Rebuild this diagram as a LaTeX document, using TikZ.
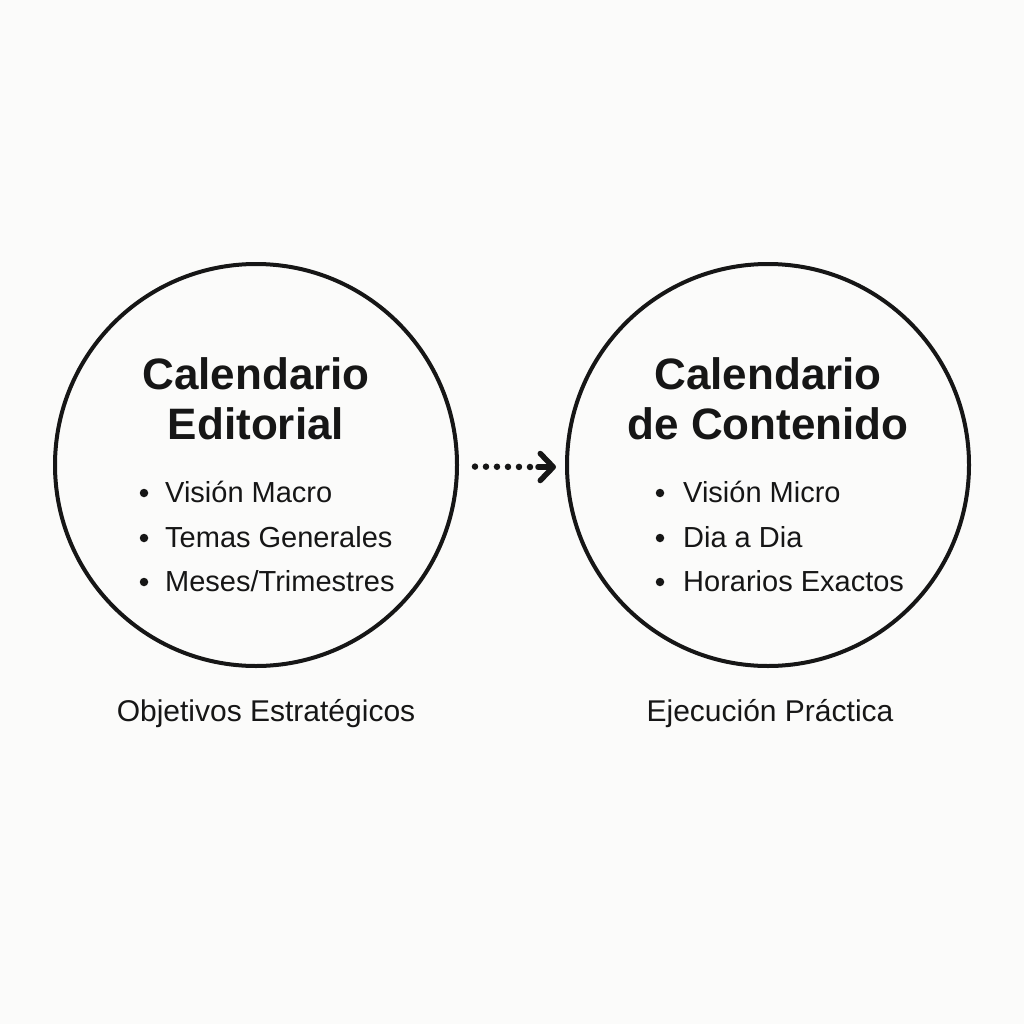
\documentclass[tikz,border=0pt]{standalone}
\usepackage{fontspec}
\setmainfont{Liberation Sans}
\usetikzlibrary{arrows.meta}
\definecolor{bg}{RGB}{251,251,250}
\definecolor{ink}{RGB}{22,22,22}
\begin{document}
\begin{tikzpicture}[x=1pt,y=-1pt,
  ring/.style={circle, draw=ink, line width=4pt, minimum size=402pt, inner sep=0pt, outer sep=0pt},
  ttl/.style={anchor=base, text=ink, font=\fontsize{44}{50}\selectfont\bfseries, inner sep=0pt},
  itm/.style={anchor=base west, text=ink, font=\fontsize{29}{34}\selectfont, inner sep=0pt},
  captext/.style={anchor=base, text=ink, font=\fontsize{30}{34}\selectfont, inner sep=0pt},
  dotdot/.style={draw=ink, line width=6.5pt, line cap=round, dash pattern=on 0pt off 11pt},
  arr/.style={draw=ink, line width=5.5pt, line cap=round, -{Straight Barb[length=13pt,width=27pt,line cap=round,line join=round]}},
  bul/.style={circle, fill=ink, inner sep=0pt, minimum size=8.5pt}]
\fill[bg] (0,0) rectangle (1024,1024);
\useasboundingbox (0,0) rectangle (1024,1024);
% circles
\node[ring] (L) at (256,465) {};
\node[ring] (R) at (768,465) {};
% left text
\node[ttl] (lt1) at (256,389) {Calendario};
\node[ttl] (lt2) at (256,439) {Editorial};
\node[bul] (lb1) at (144,493) {};
\node[bul] (lb2) at (144,538) {};
\node[bul] (lb3) at (144,582) {};
\node[itm] (li1) at (165,502) {Visión Macro};
\node[itm] (li2) at (165,547) {Temas Generales};
\node[itm] (li3) at (165,591) {Meses/Trimestres};
% right text
\node[ttl] (rt1) at (768,389) {Calendario};
\node[ttl] (rt2) at (768,439) {de Contenido};
\node[bul] (rb1) at (660,493) {};
\node[bul] (rb2) at (660,538) {};
\node[bul] (rb3) at (660,582) {};
\node[itm] (ri1) at (683,502) {Visión Micro};
\node[itm] (ri2) at (683,547) {Dia a Dia};
\node[itm] (ri3) at (683,591) {Horarios Exactos};
% captions
\node[captext] (lc) at (266,721) {Objetivos Estratégicos};
\node[captext] (rc) at (770,721) {Ejecución Práctica};
% connector
\coordinate (m) at (531,467);
\coordinate (a) at (538,467);
\draw[dotdot, shorten <=18pt] (L) -- (m);
\draw[arr, shorten >=11pt] (a) -- (R.west |- a);
\end{tikzpicture}
\end{document}
